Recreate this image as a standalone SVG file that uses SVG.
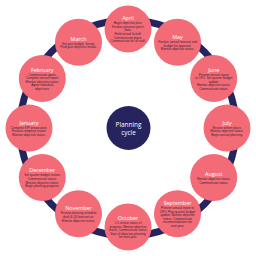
<svg xmlns="http://www.w3.org/2000/svg" width="256" height="256" viewBox="0 0 256 256">
<style>
.n{fill:#f36b77}
.t{font-family:"Open Sans","Liberation Sans",sans-serif;font-size:5.4px;fill:#ffffff;text-anchor:middle}
.b{font-family:"Liberation Sans",sans-serif;font-size:3.1px;fill:#3a2436;text-anchor:middle}
</style>
<rect width="256" height="256" fill="#ffffff"/>
<g id="connectors">
<circle cx="128" cy="128" r="108" fill="none" stroke="#25245f" stroke-width="7"/>
</g>
<g id="center">
<circle cx="128.5" cy="128" r="22" fill="#25245f"/>
<text class="t" x="128.5" y="127" style="font-size:6.4px">Planning</text>
<text class="t" x="128.5" y="135" style="font-size:6.4px">cycle</text>
</g>
<g id="april">
<circle class="n" cx="128" cy="29" r="23.5"/>
<text class="t" x="128" y="20.2">April</text>
<text class="b" x="128" y="24.2">Begin objective plan.</text>
<text class="b" x="128" y="27.8">Finalize previous year's</text>
<text class="b" x="128" y="31.4">data.</text>
<text class="b" x="128" y="35">Hold annual kickoff.</text>
<text class="b" x="128" y="38.6">Communicate plans.</text>
<text class="b" x="128" y="42.2">Communicate for all staff.</text>
</g>
<g id="may">
<circle class="n" cx="177.5" cy="42.3" r="23.5"/>
<text class="t" x="177.5" y="38.9">May</text>
<text class="b" x="177.5" y="42.9">Finalize annual forecast and</text>
<text class="b" x="177.5" y="46.5">budget for approval.</text>
<text class="b" x="177.5" y="50.1">Monitor objective status.</text>
</g>
<g id="june">
<circle class="n" cx="213.7" cy="78.5" r="23.5"/>
<text class="t" x="213.7" y="71.5">June</text>
<text class="b" x="213.7" y="75.5">Present annual report</text>
<text class="b" x="213.7" y="79.1">to CFO. Set quarter budget</text>
<text class="b" x="213.7" y="82.7">update.</text>
<text class="b" x="213.7" y="86.3">Monitor objective status.</text>
<text class="b" x="213.7" y="89.9">Communicate status.</text>
</g>
<g id="july">
<circle class="n" cx="227" cy="128" r="23.5"/>
<text class="t" x="227" y="124.6">July</text>
<text class="b" x="227" y="128.6">Review written plans.</text>
<text class="b" x="227" y="132.2">Monitor objective status.</text>
<text class="b" x="227" y="135.8">Begin annual planning.</text>
</g>
<g id="august">
<circle class="n" cx="213.7" cy="177.5" r="23.5"/>
<text class="t" x="213.7" y="175.9">August</text>
<text class="b" x="213.7" y="179.9">Monitor objective status.</text>
<text class="b" x="213.7" y="183.5">Communicate status.</text>
</g>
<g id="september">
<circle class="n" cx="177.5" cy="213.7" r="23.5"/>
<text class="t" x="177.5" y="204.9">September</text>
<text class="b" x="177.5" y="208.9">Present annual report to</text>
<text class="b" x="177.5" y="212.5">CFO. Plan quarter budget</text>
<text class="b" x="177.5" y="216.1">update. Monitor objective</text>
<text class="b" x="177.5" y="219.7">status. Communicate</text>
<text class="b" x="177.5" y="223.3">recommendations for</text>
<text class="b" x="177.5" y="226.9">next year.</text>
</g>
<g id="october">
<circle class="n" cx="128" cy="227" r="23.5"/>
<text class="t" x="128" y="220">October</text>
<text class="b" x="128" y="224">1:1 review status of</text>
<text class="b" x="128" y="227.6">progress. Monitor objective</text>
<text class="b" x="128" y="231.2">status. Communicate status.</text>
<text class="b" x="128" y="234.8">Start of objective planning</text>
<text class="b" x="128" y="238.4">for next year.</text>
</g>
<g id="november">
<circle class="n" cx="78.5" cy="213.7" r="23.5"/>
<text class="t" x="78.5" y="210.3">November</text>
<text class="b" x="78.5" y="214.3">Review planning schedule</text>
<text class="b" x="78.5" y="217.9">draft &amp; Q3 forecast on.</text>
<text class="b" x="78.5" y="221.5">Monitor objective status.</text>
</g>
<g id="december">
<circle class="n" cx="42.3" cy="177.5" r="23.5"/>
<text class="t" x="42.3" y="172.3">December</text>
<text class="b" x="42.3" y="176.3">Set quarter budget review.</text>
<text class="b" x="42.3" y="179.9">Communicate status.</text>
<text class="b" x="42.3" y="183.5">Monitor objective status.</text>
<text class="b" x="42.3" y="187.1">Begin planning progress.</text>
</g>
<g id="january">
<circle class="n" cx="29" cy="128" r="23.5"/>
<text class="t" x="29" y="124.6">January</text>
<text class="b" x="29" y="128.6">Complete KPI preparation.</text>
<text class="b" x="29" y="132.2">Finalize company review.</text>
<text class="b" x="29" y="135.8">Monitor objective status.</text>
</g>
<g id="february">
<circle class="n" cx="42.3" cy="78.5" r="23.5"/>
<text class="t" x="42.3" y="71.5">February</text>
<text class="b" x="42.3" y="75.5">Communicate goals.</text>
<text class="b" x="42.3" y="79.1">Complete annual report.</text>
<text class="b" x="42.3" y="82.7">Monitor objective status.</text>
<text class="b" x="42.3" y="86.3">Agree individual</text>
<text class="b" x="42.3" y="89.9">objectives.</text>
</g>
<g id="march">
<circle class="n" cx="78.5" cy="42.3" r="23.5"/>
<text class="t" x="78.5" y="40.7">March</text>
<text class="b" x="78.5" y="44.7">Set your budget. Iterate.</text>
<text class="b" x="78.5" y="48.3">Find your objective trends.</text>
</g>
</svg>
